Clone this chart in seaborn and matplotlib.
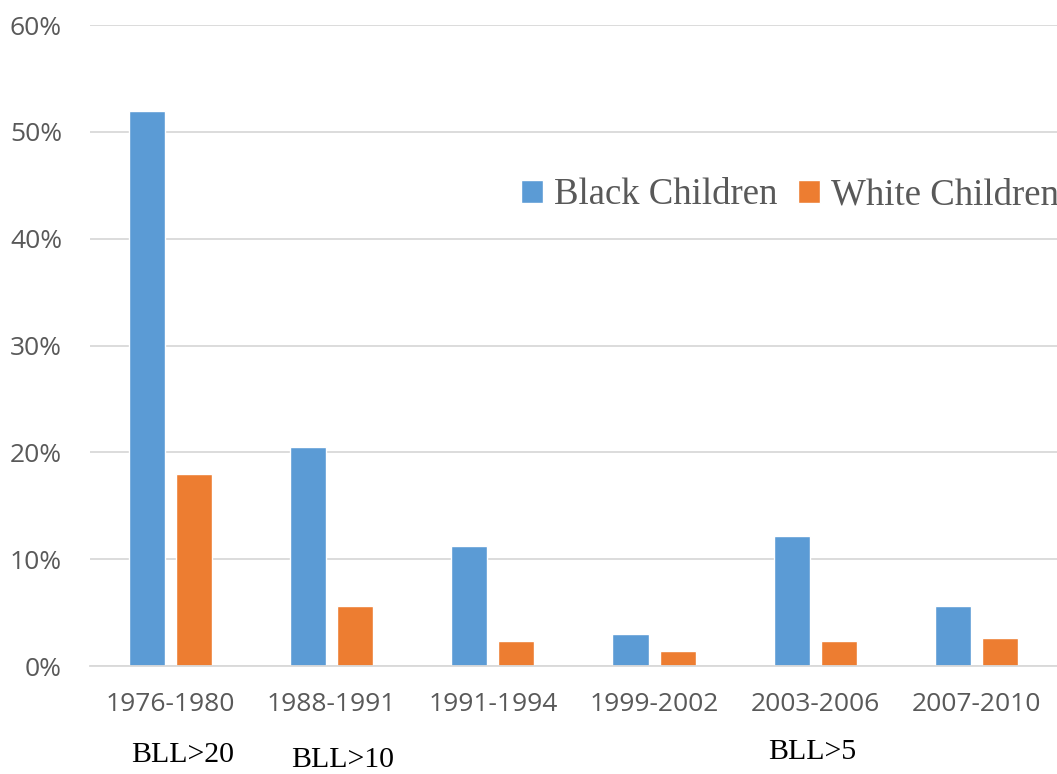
import pandas as pd
import seaborn as sns
import matplotlib.pyplot as plt
from matplotlib.ticker import PercentFormatter

# Data (percent of children)
periods = ['1976-1980', '1988-1991', '1991-1994', '1999-2002', '2003-2006', '2007-2010']
black_children = [52.0, 20.5, 11.2, 3.0, 12.2, 5.6]
white_children = [18.0, 5.6, 2.3, 1.4, 2.3, 2.6]
series_names = ['Black Children', 'White Children']
thresholds = ['BLL>20', 'BLL>10', 'BLL>5']


def main():
    df = pd.DataFrame({
        'Period': periods * 2,
        'Group': [series_names[0]] * len(periods) + [series_names[1]] * len(periods),
        'Value': black_children + white_children,
    })

    sns.set_theme(style="white")
    plt.rcParams['font.family'] = ['Open Sans', 'DejaVu Sans']

    fig = plt.figure(figsize=(10.57, 7.74), dpi=100)
    ax = fig.add_axes([0.085, 0.1395, 0.915, 0.828])

    palette = ['#5B9BD5', '#ED7D31']
    sns.barplot(data=df, x='Period', y='Value', hue='Group', order=periods,
                hue_order=series_names, palette=palette, width=0.584, gap=0.234,
                saturation=1, ax=ax)

    ax.set_ylim(0, 60)
    ax.set_xlim(-0.5, len(periods) - 0.5)
    ax.set_yticks(range(0, 61, 10))
    ax.yaxis.set_major_formatter(PercentFormatter(decimals=0))
    ax.set_xlabel('')
    ax.set_ylabel('')
    ax.grid(axis='y', color='#D9D9D9', linewidth=1.3)
    ax.set_axisbelow(True)
    for side in ['top', 'right', 'left']:
        ax.spines[side].set_visible(False)
    ax.spines['bottom'].set_color('#D9D9D9')
    ax.spines['bottom'].set_linewidth(1.3)
    ax.tick_params(axis='both', length=0, labelsize=19, labelcolor='#595959')
    ax.tick_params(axis='x', pad=19)
    ax.tick_params(axis='y', pad=20)

    # Legend in serif font
    leg = ax.legend(loc='center right', bbox_to_anchor=(1.036, 0.735), ncol=2,
                    frameon=False, handlelength=0.6, handleheight=0.6,
                    handletextpad=0.3, columnspacing=0.55,
                    prop={'family': 'Liberation Serif', 'size': 26.5})
    for t in leg.get_texts():
        t.set_color('#595959')

    # Threshold labels under the periods
    fig.text(183 / 1057, 1 - 755 / 774, thresholds[0], ha='center', va='center',
             fontsize=21.5, family='Liberation Serif', color='black')
    fig.text(343 / 1057, 1 - 760 / 774, thresholds[1], ha='center', va='center',
             fontsize=21.5, family='Liberation Serif', color='black')
    fig.text(812 / 1057, 1 - 752 / 774, thresholds[2], ha='center', va='center',
             fontsize=21.5, family='Liberation Serif', color='black')

    fig.savefig('out.png', dpi=100)


if __name__ == "__main__":
    main()
